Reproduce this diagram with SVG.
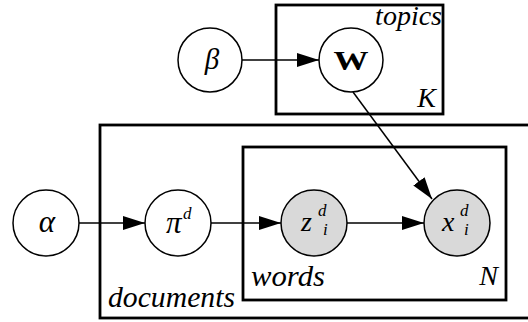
<svg xmlns="http://www.w3.org/2000/svg" width="528" height="322" viewBox="0 0 528 322">
<style>
.plate{fill:none;stroke:#000;stroke-width:2.8}
.node{stroke:#000;stroke-width:1.5}
.open{fill:#fff}
.obs{fill:#d9d9d9}
.edge{stroke:#000;stroke-width:1.5;fill:none}
</style>
<defs>
<marker id="ah" markerUnits="userSpaceOnUse" markerWidth="23" markerHeight="14" refX="22" refY="7" orient="auto">
<path d="M0,0 L22,7 L0,14 z" fill="#000"/>
</marker>
</defs>
<rect width="528" height="322" fill="#fff"/>
<g font-family="Liberation Serif, 'DejaVu Serif', serif" font-style="italic" fill="#000">
<g id="plate-topics">
<rect class="plate" x="276" y="5" width="167" height="109"/>
<text x="442" y="25" font-size="28" text-anchor="end">topics</text>
<text x="436" y="107" font-size="28" text-anchor="end">K</text>
</g>
<g id="plate-documents">
<rect class="plate" x="100" y="125" width="440" height="193"/>
<text x="108" y="307" font-size="29" textLength="127" lengthAdjust="spacingAndGlyphs">documents</text>
</g>
<g id="plate-words">
<rect class="plate" x="243" y="147" width="263" height="153"/>
<text x="251" y="286" font-size="29" textLength="74" lengthAdjust="spacingAndGlyphs">words</text>
<text x="498" y="285" font-size="28" text-anchor="end">N</text>
</g>
<g id="connectors">
<line class="edge" x1="242" y1="60" x2="319" y2="60" marker-end="url(#ah)"/>
<line class="edge" x1="353" y1="92" x2="432" y2="199" marker-end="url(#ah)"/>
<line class="edge" x1="79" y1="223" x2="145" y2="223" marker-end="url(#ah)"/>
<line class="edge" x1="211" y1="223" x2="281" y2="223" marker-end="url(#ah)"/>
<line class="edge" x1="347" y1="223" x2="424" y2="223" marker-end="url(#ah)"/>
</g>
<g id="node-beta">
<circle class="node open" cx="210" cy="60" r="32"/>
<text x="212" y="69" font-size="29" text-anchor="middle">β</text>
</g>
<g id="node-W">
<circle class="node open" cx="351" cy="60" r="32"/>
<text x="351" y="70" font-size="28" font-weight="bold" font-style="normal" text-anchor="middle" textLength="35" lengthAdjust="spacingAndGlyphs">W</text>
</g>
<g id="node-alpha">
<circle class="node open" cx="46" cy="223" r="33"/>
<text x="47" y="232" font-size="31" text-anchor="middle">α</text>
</g>
<g id="node-pi">
<circle class="node open" cx="178" cy="223" r="33"/>
<text x="166" y="233" font-size="31">π</text>
<text x="183" y="219" font-size="17">d</text>
</g>
<g id="node-z">
<circle class="node obs" cx="314" cy="223" r="33"/>
<text x="301" y="231" font-size="28">z</text>
<text x="318" y="216" font-size="17">d</text>
<text x="323" y="235" font-size="17">i</text>
</g>
<g id="node-x">
<circle class="node obs" cx="457" cy="223" r="33"/>
<text x="442" y="231" font-size="28">x</text>
<text x="460" y="216" font-size="17">d</text>
<text x="464" y="235" font-size="17">i</text>
</g>
</g>
</svg>
